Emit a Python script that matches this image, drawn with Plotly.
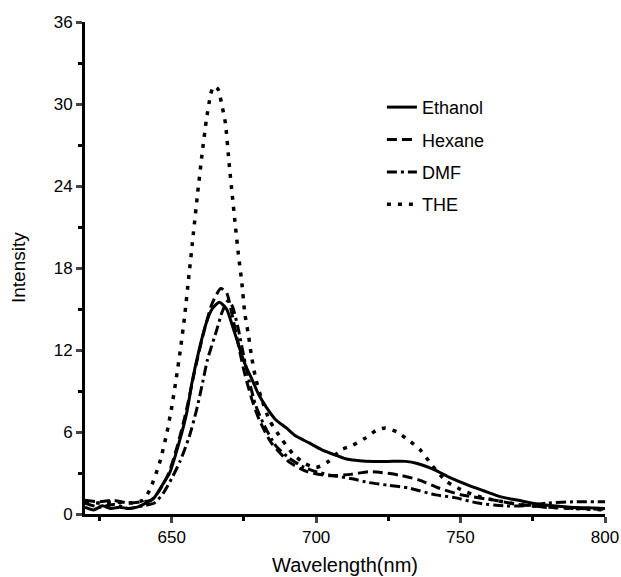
import plotly.graph_objects as go

# Ethanol (solid)
eth_x = [620, 623, 626, 629, 632, 635, 638, 641, 644, 647, 649.3, 652.8, 655.2, 657.2, 659.7, 662, 664, 666.5, 669, 671, 673.4, 675.5, 677.9, 680, 682.8, 686, 689.7, 693, 697.6, 702, 706.9, 711, 715, 720, 725, 731, 735, 741.4, 746, 752.8, 758, 764, 770, 776, 782, 788, 794, 800]
eth_y = [0.5, 0.3, 0.6, 0.4, 0.5, 0.4, 0.5, 0.8, 1.2, 2.2, 3.0, 5.4, 7.4, 9.8, 12.2, 14.0, 15.0, 15.5, 15.0, 13.8, 12.2, 10.9, 9.8, 8.8, 7.8, 6.9, 6.3, 5.7, 5.2, 4.7, 4.3, 4.0, 3.9, 3.85, 3.85, 3.85, 3.7, 3.2, 2.7, 2.1, 1.7, 1.25, 1.0, 0.75, 0.6, 0.5, 0.45, 0.4]

# Hexane (dash)
hex_x = [620, 625, 630, 635, 640, 643, 646, 649, 652, 655, 658, 661, 664, 667, 669, 671, 673, 675, 677.6, 680.3, 684.5, 690.7, 696.9, 704.5, 712, 718, 722, 728.6, 735.5, 742.4, 750.3, 762, 770, 780, 790, 800]
hex_y = [1.0, 0.9, 1.0, 0.8, 0.9, 1.0, 1.8, 3.0, 5.0, 7.5, 10.5, 13.2, 15.4, 16.5, 16.2, 14.5, 12.5, 10.5, 8.5, 6.9, 5.2, 3.8, 3.1, 2.8, 2.9, 3.1, 3.05, 2.85, 2.5, 1.9, 1.4, 1.0, 0.7, 0.5, 0.4, 0.35]

# DMF (dash-dot)
dmf_x = [620, 625, 630, 635, 640, 644, 647, 650, 653, 656, 658.6, 660.7, 662.4, 665.5, 667.5, 669.5, 671, 673, 675, 677, 679, 682, 686, 690, 695, 700, 706, 712, 718.3, 725, 732, 741.4, 748, 756, 765, 772, 780, 790, 800]
dmf_y = [0.8, 0.5, 0.7, 0.4, 0.6, 0.8, 1.5, 2.6, 3.9, 5.6, 7.6, 9.6, 11.3, 13.4, 14.8, 15.6, 15.2, 13.6, 11.5, 9.6, 8.0, 6.5, 5.0, 4.2, 3.5, 3.1, 2.8, 2.6, 2.3, 2.1, 1.9, 1.4, 1.2, 0.8, 0.6, 0.6, 0.8, 0.9, 0.9]

# THE (dot)
the_x = [620, 625, 630, 635, 640, 642.4, 645.9, 648.3, 650, 651.5, 653, 654.5, 656, 657.5, 659, 660.5, 662, 663.5, 664.5, 666, 667.5, 668.6, 670, 671, 672, 673.1, 674.3, 675.3, 676.5, 677.6, 679, 681, 684, 688, 692, 696, 700, 704, 708.6, 712.4, 716.6, 720.7, 724, 728, 732, 736, 740, 745, 750, 756, 762, 770, 780, 790, 800]
the_y = [0.9, 0.8, 0.9, 0.8, 1.0, 1.75, 3.8, 5.9, 7.8, 9.8, 12.0, 14.5, 17.5, 20.5, 23.5, 26.3, 28.8, 30.7, 31.3, 31.1, 29.8, 28.6, 25.4, 23.3, 21.2, 19.0, 16.9, 14.7, 13.2, 11.6, 10.0, 8.5, 6.8, 5.5, 4.4, 3.7, 3.4, 3.8, 4.7, 5.0, 5.5, 6.1, 6.3, 6.0, 5.4, 4.7, 3.6, 2.4, 1.8, 1.3, 1.0, 0.7, 0.5, 0.4, 0.3]

x_ticks = [650, 700, 750, 800]
y_ticks = [0, 6, 12, 18, 24, 30, 36]

series = [
    ("Ethanol", eth_x, eth_y, "solid", 3),
    ("Hexane", hex_x, hex_y, "10px,5px", 3),
    ("DMF", dmf_x, dmf_y, "10px,4px,3px,4px", 3),
    ("THE", the_x, the_y, "4px,7px", 3.5),
]

fig = go.Figure()
for name, xs, ys, dash, w in series:
    fig.add_trace(go.Scatter(
        x=xs, y=ys, mode="lines", name=name, legendgroup=name,
        line=dict(color="black", width=w, dash=dash, shape="spline", smoothing=0.6),
    ))

font = "Liberation Sans, Arial, Helvetica, sans-serif"
fig.update_layout(
    width=621, height=577,
    margin=dict(l=85, r=16, t=22, b=63),
    paper_bgcolor="white", plot_bgcolor="white",
    font=dict(family=font, size=17, color="black"),
    showlegend=True,
    legend=dict(x=0.571, y=0.864, xanchor="left", yanchor="top",
                bgcolor="rgba(0,0,0,0)", font=dict(size=18),
                tracegroupgap=6, itemwidth=30),
    xaxis=dict(range=[620, 800], tickvals=x_ticks, ticks="outside", ticklen=6, tickwidth=3,
               showline=True, linewidth=3, linecolor="black", showgrid=False, zeroline=False,
               automargin=False,
               minor=dict(dtick=25, tick0=625, ticks="outside", ticklen=4, tickwidth=3, tickcolor="black"),
               tickfont=dict(size=17)),
    yaxis=dict(range=[0, 36], tickvals=y_ticks, ticks="outside", ticklen=6, tickwidth=3,
               showline=True, linewidth=3, linecolor="black", showgrid=False, zeroline=False,
               automargin=False,
               minor=dict(dtick=6, tick0=3, ticks="outside", ticklen=4, tickwidth=3, tickcolor="black"),
               tickfont=dict(size=17)),
    annotations=[
        dict(text="Intensity", xref="paper", yref="paper", x=0, y=0.5, xanchor="center",
             yanchor="middle", xshift=-67, textangle=-90, showarrow=False, font=dict(size=19)),
        dict(text="Wavelength(nm)", xref="paper", yref="paper", x=0.5, y=0, xanchor="center",
             yanchor="middle", yshift=-51, showarrow=False, font=dict(size=20)),
    ],
)

fig.write_html("out.html", config={"displayModeBar": False},
               post_script="document.body.style.margin='0';document.body.style.overflow='hidden';")
